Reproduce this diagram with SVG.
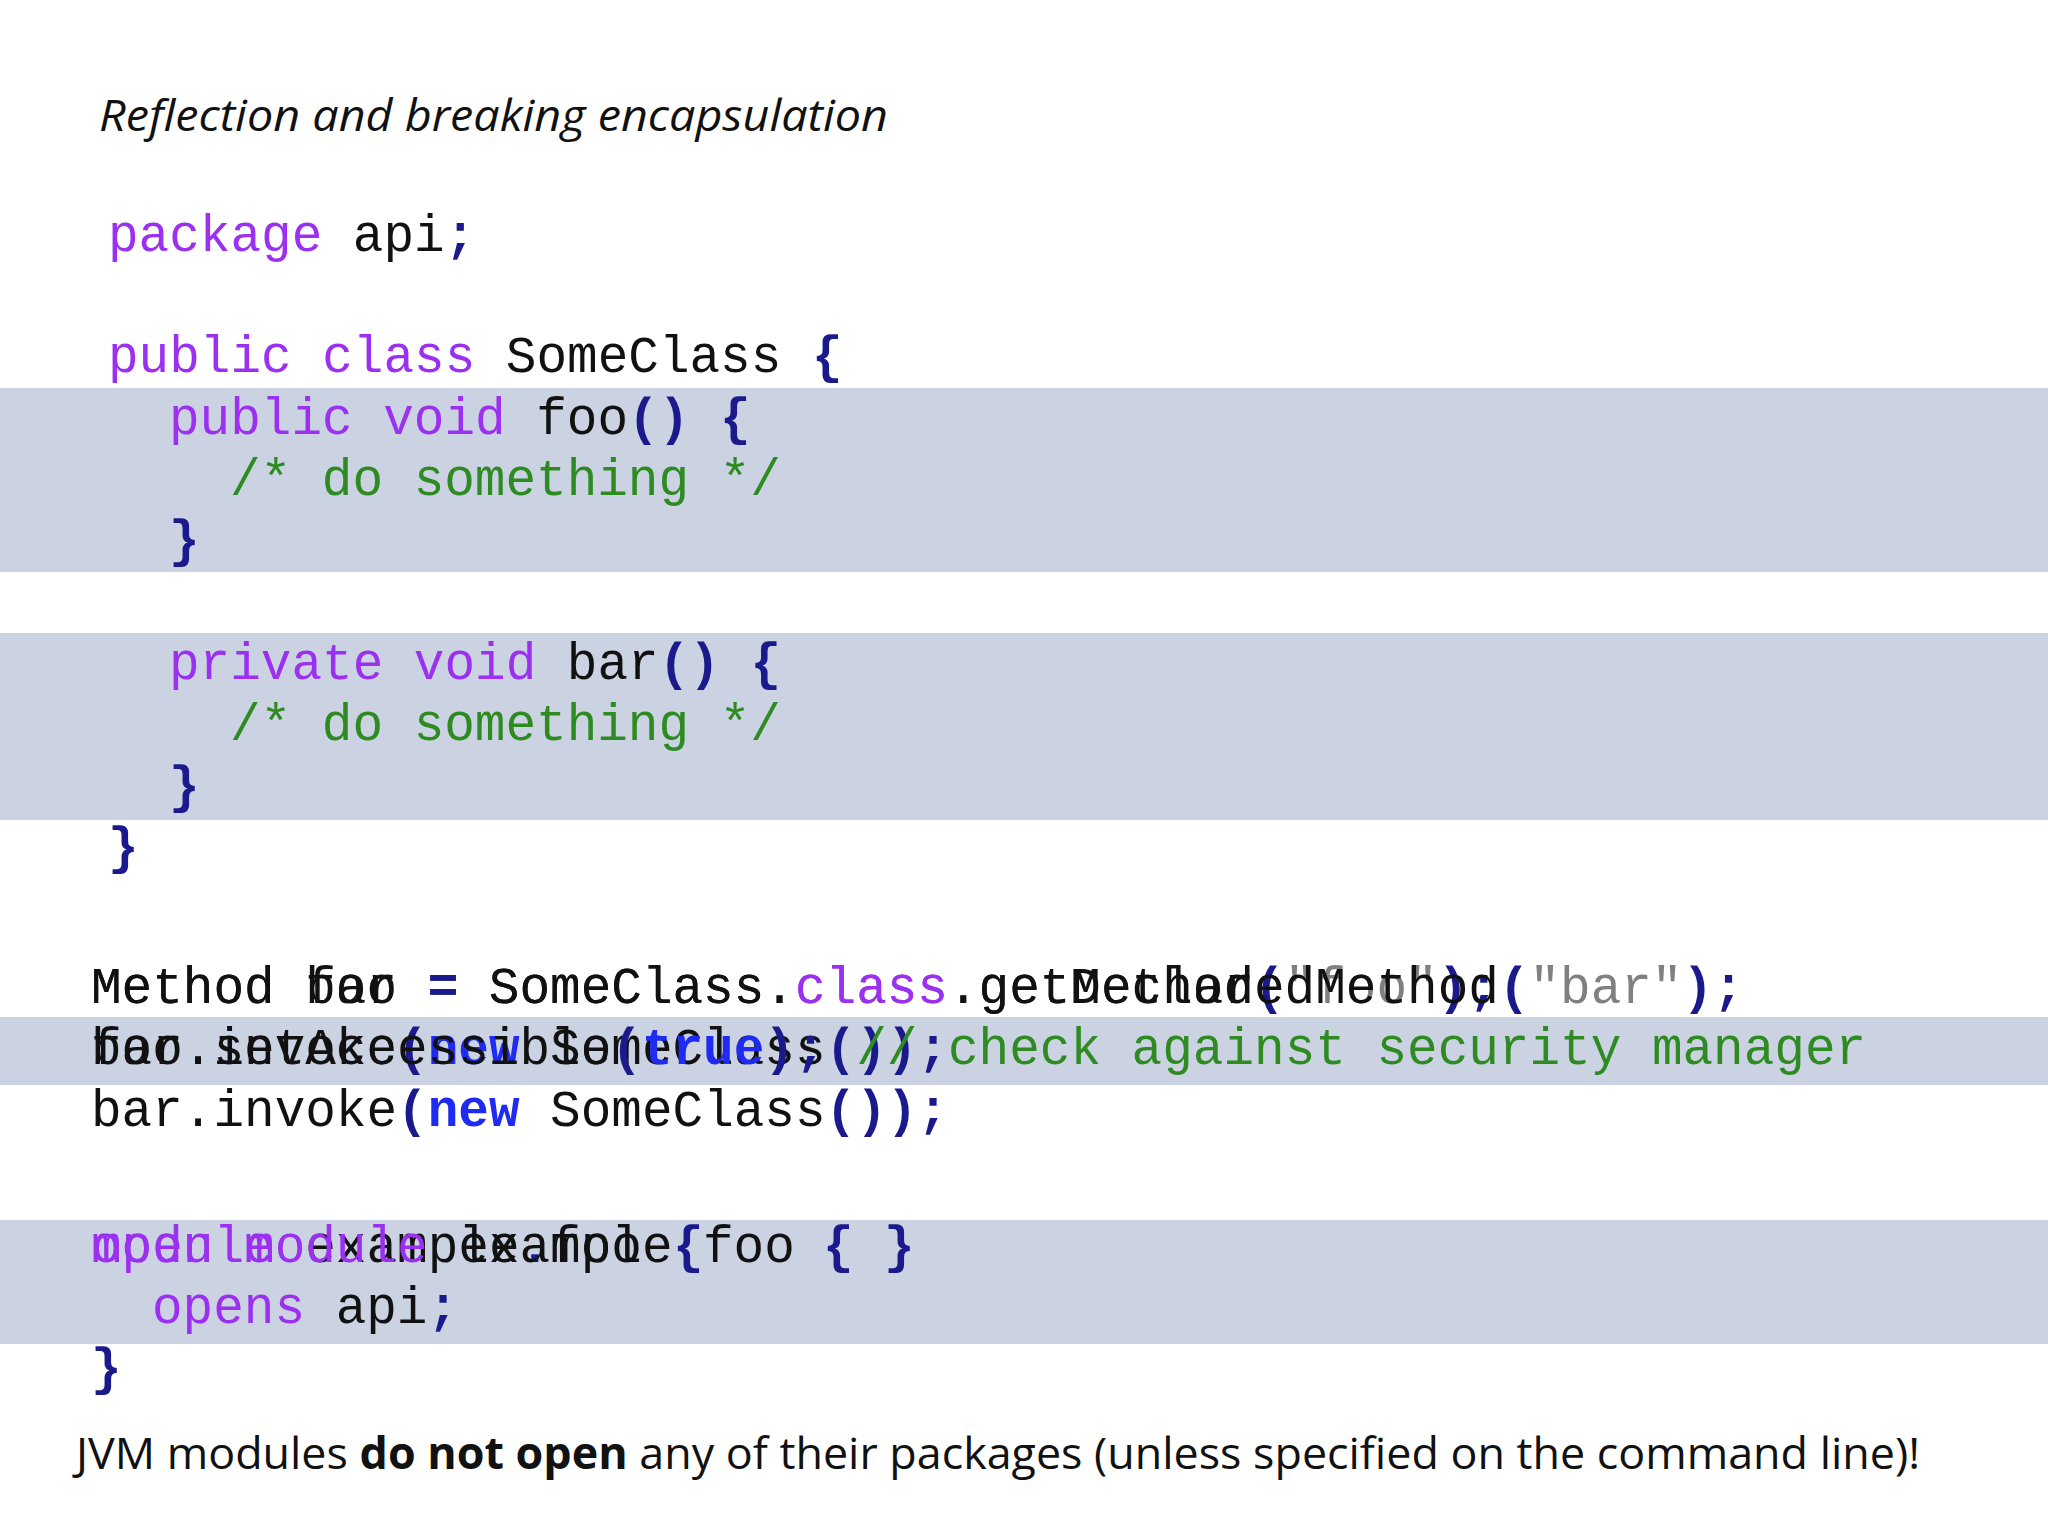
<svg xmlns="http://www.w3.org/2000/svg" width="2048" height="1536" viewBox="0 0 2048 1536">
<style>
.c{font-family:"Liberation Mono","Courier New",monospace;font-size:51px;fill:#111;white-space:pre}
.k{fill:#9b30f0}.g{fill:#2e8b22}.p{fill:#1a1a8c;font-weight:bold}.b{fill:#1f2bf0;font-weight:bold}.s{fill:#808080}
.band{fill:#cbd3e3}
</style>
<rect width="2048" height="1536" fill="#fff"/>
<rect class="band" x="0" y="388" width="2048" height="184"/>
<rect class="band" x="0" y="633" width="2048" height="187"/>
<rect class="band" x="0" y="1017" width="2048" height="68"/>
<rect class="band" x="0" y="1220" width="2048" height="124"/>
<text x="99" y="131" font-family="Open Sans,Liberation Sans,sans-serif" font-style="italic" font-size="44" textLength="789" lengthAdjust="spacingAndGlyphs" fill="#111">Reflection and breaking encapsulation</text>
<g id="code-class">
<text class="c" x="108" y="251"><tspan class="k">package</tspan> api<tspan class="p">;</tspan></text>
<text class="c" x="108" y="372"><tspan class="k">public class</tspan> SomeClass <tspan class="p">{</tspan></text>
<text class="c" x="169" y="434"><tspan class="k">public void</tspan> foo<tspan class="p">()</tspan> <tspan class="p">{</tspan></text>
<text class="c g" x="230" y="495">/* do something */</text>
<text class="c p" x="169" y="556">}</text>
<text class="c" x="169" y="679"><tspan class="k">private void</tspan> bar<tspan class="p">()</tspan> <tspan class="p">{</tspan></text>
<text class="c g" x="230" y="740">/* do something */</text>
<text class="c p" x="169" y="802">}</text>
<text class="c p" x="108" y="863">}</text>
</g>
<g id="code-reflection">
<text class="c" x="91" y="1003">Method foo <tspan class="p">=</tspan> SomeClass.<tspan class="k">class</tspan>.getMethod<tspan class="p">(</tspan><tspan class="s">"foo"</tspan><tspan class="p">)</tspan><tspan class="p">;</tspan></text>
<text class="c" x="91" y="1003">Method bar <tspan class="p">=</tspan> SomeClass.<tspan class="k">class</tspan>.getDeclaredMethod<tspan class="p">(</tspan><tspan class="s">"bar"</tspan><tspan class="p">)</tspan><tspan class="p">;</tspan></text>
<text class="c" x="91" y="1064">foo.invoke<tspan class="p">(</tspan><tspan class="b">new</tspan> SomeClass<tspan class="p">())</tspan><tspan class="p">;</tspan></text>
<text class="c" x="91" y="1064">bar.setAccessible<tspan class="p">(</tspan><tspan class="b">true</tspan><tspan class="p">)</tspan><tspan class="p">;</tspan> <tspan class="g">// check against security manager</tspan></text>
<text class="c" x="91" y="1126">bar.invoke<tspan class="p">(</tspan><tspan class="b">new</tspan> SomeClass<tspan class="p">())</tspan><tspan class="p">;</tspan></text>
</g>
<g id="code-module">
<text class="c" x="91" y="1262"><tspan class="k">module</tspan> example<tspan class="p">.</tspan>foo</text>
<text class="c" x="91" y="1262"><tspan class="k">open module</tspan> example</text>
<text class="c p" x="673" y="1262">{</text>
<text class="c" x="703" y="1262">foo</text>
<text class="c p" x="823" y="1262">{</text>
<text class="c p" x="884" y="1262">}</text>
<text class="c" x="152" y="1323"><tspan class="k">opens</tspan> api<tspan class="p">;</tspan></text>
<text class="c p" x="91" y="1384">}</text>
</g>
<text x="76" y="1469" font-family="Open Sans,Liberation Sans,sans-serif" font-size="44" textLength="1844" lengthAdjust="spacingAndGlyphs" fill="#111">JVM modules <tspan font-weight="bold">do not open</tspan> any of their packages (unless specified on the command line)!</text>
</svg>
